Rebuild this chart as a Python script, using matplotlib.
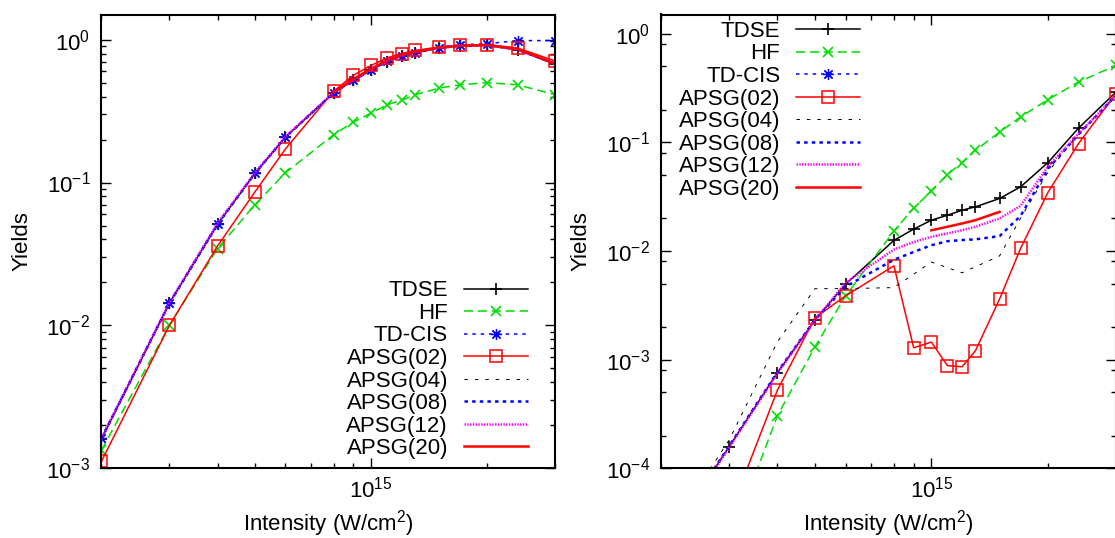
import matplotlib
matplotlib.use("Agg")
import matplotlib.pyplot as plt
from matplotlib.ticker import LogLocator, LogFormatterSciNotation, NullFormatter

plt.rcParams['font.family'] = ['Liberation Sans', 'DejaVu Sans']
plt.rcParams['mathtext.fontset'] = 'custom'
plt.rcParams['mathtext.rm'] = 'Liberation Sans'
plt.rcParams['mathtext.it'] = 'Liberation Sans:italic'
plt.rcParams['mathtext.bf'] = 'Liberation Sans:bold'
plt.rcParams['axes.unicode_minus'] = False
plt.rcParams['lines.scale_dashes'] = False

# ---------------- data ----------------
labels = ["TDSE", "HF", "TD-CIS", "APSG(02)", "APSG(04)", "APSG(08)", "APSG(12)", "APSG(20)"]

# left panel
xL = [2e14, 3e14, 4e14, 5e14, 6e14, 8e14, 9e14, 1.0e15, 1.1e15, 1.2e15, 1.3e15, 1.5e15, 1.7e15, 2.0e15, 2.4e15, 3.0e15]
tdse_L = [1.6e-3, 0.0143, 0.051, 0.116, 0.208, 0.424, 0.519, 0.612, 0.703, 0.77, 0.81, 0.876, 0.905, 0.915, 0.85, 0.675]
hf_L = [1.34e-3, 0.0100, 0.0345, 0.070, 0.117, 0.216, 0.265, 0.306, 0.35, 0.376, 0.411, 0.458, 0.483, 0.50, 0.483, 0.412]
tdcis_L = [1.64e-3, 0.0143, 0.051, 0.116, 0.208, 0.426, 0.519, 0.61, 0.705, 0.768, 0.81, 0.879, 0.92, 0.937, 0.985, 0.985]
apsg02_L = [1.12e-3, 0.0100, 0.036, 0.086, 0.172, 0.436, 0.563, 0.66, 0.745, 0.80, 0.84, 0.888, 0.912, 0.923, 0.874, 0.71]
apsg04_L = [1.6e-3, 0.0143, 0.051, 0.116, 0.208, 0.425, 0.52, 0.613, 0.703, 0.77, 0.81, 0.876, 0.905, 0.915, 0.85, 0.675]
apsg08_L = [1.62e-3, 0.0143, 0.051, 0.116, 0.208, 0.425, 0.52, 0.613, 0.704, 0.77, 0.81, 0.877, 0.905, 0.916, 0.852, 0.677]
apsg12_L = [1.62e-3, 0.0144, 0.052, 0.117, 0.209, 0.426, 0.521, 0.615, 0.705, 0.772, 0.812, 0.878, 0.906, 0.917, 0.853, 0.678]
xL20 = [8e14, 9e14, 1.0e15, 1.1e15, 1.2e15, 1.3e15, 1.5e15, 1.7e15, 2.0e15, 2.4e15, 3.0e15]
apsg20_L = [0.43, 0.53, 0.625, 0.715, 0.78, 0.82, 0.88, 0.905, 0.915, 0.86, 0.68]

# right panel
xR = [2e14, 3e14, 4e14, 5e14, 6e14, 8e14, 9e14, 1.0e15, 1.1e15, 1.2e15, 1.3e15, 1.5e15, 1.7e15, 2.0e15, 2.4e15, 3.0e15]
tdse_R = [1.8e-5, 1.58e-4, 7.6e-4, 2.31e-3, 4.95e-3, 0.0125, 0.0159, 0.0192, 0.0213, 0.0237, 0.0255, 0.0304, 0.0389, 0.065, 0.135, 0.29]
xR_hf = [3e14, 4e14, 5e14, 6e14, 8e14, 9e14, 1.0e15, 1.1e15, 1.2e15, 1.3e15, 1.5e15, 1.7e15, 2.0e15, 2.4e15, 3.0e15]
hf_R = [2.0e-5, 3.05e-4, 1.31e-3, 3.86e-3, 0.0152, 0.0249, 0.0355, 0.0505, 0.065, 0.0845, 0.124, 0.171, 0.247, 0.359, 0.51]
xR_02 = [3e14, 4e14, 5e14, 6e14, 8e14, 9e14, 1.0e15, 1.1e15, 1.2e15, 1.3e15, 1.5e15, 1.7e15, 2.0e15, 2.4e15, 3.0e15]
apsg02_R = [3.7e-5, 5.25e-4, 2.43e-3, 3.86e-3, 7.3e-3, 1.285e-3, 1.45e-3, 8.8e-4, 8.6e-4, 1.21e-3, 3.6e-3, 0.01055, 0.0345, 0.0973, 0.28]
xR_04 = [2e14, 3e14, 4e14, 5e14, 6e14, 8e14, 1.0e15, 1.2e15, 1.5e15, 1.7e15, 2.0e15, 2.4e15, 3.0e15]
apsg04_R = [2.0e-5, 1.82e-4, 1.46e-3, 4.5e-3, 4.5e-3, 4.6e-3, 7.9e-3, 6.3e-3, 9.0e-3, 0.020, 0.053, 0.12, 0.27]
apsg08_R = [1.8e-5, 1.6e-4, 7.7e-4, 2.33e-3, 4.7e-3, 8.3e-3, 9.8e-3, 0.0113, 0.0123, 0.0126, 0.0128, 0.0137, 0.021, 0.057, 0.118, 0.27]
apsg12_R = [1.7e-5, 1.55e-4, 7.5e-4, 2.3e-3, 5.1e-3, 0.0103, 0.0121, 0.0135, 0.0145, 0.0155, 0.0167, 0.0199, 0.026, 0.060, 0.12, 0.27]
xR_20 = [1.0e15, 1.1e15, 1.2e15, 1.3e15, 1.5e15]
apsg20_R = [0.0155, 0.0167, 0.0179, 0.0192, 0.0229]

xlabel = "Intensity (W/cm$^{2}$)"
ylabel = "Yields"

# ---------------- styles ----------------
GREEN = '#00dd00'
styles = {
    "TDSE": dict(color='black', lw=1.1, marker='+', ms=8, mew=1.2, ls='-'),
    "HF": dict(color=GREEN, lw=1.1, marker='x', ms=7, mew=1.2, dashes=(6.5, 3.5)),
    "TD-CIS": dict(color='blue', lw=1.1, marker=(8, 2, 0), ms=8, mew=0.9, dashes=(2.5, 3.5)),
    "APSG(02)": dict(color='red', lw=1.1, marker='s', ms=8, mew=1.1, mfc='none', ls='-'),
    "APSG(04)": dict(color='black', lw=0.7, dashes=(2.5, 5.0)),
    "APSG(08)": dict(color='blue', lw=1.8, dashes=(2.5, 3.0)),
    "APSG(12)": dict(color='magenta', lw=1.8, dashes=(1.0, 1.0)),
    "APSG(20)": dict(color='red', lw=1.8, ls='-'),
}

FS = 16
W, H = 1115, 538
fig = plt.figure(figsize=(W / 100, H / 100), dpi=100)
bottom_px, top_px = 468.3, 14.5
axL = fig.add_axes([101.5 / W, 1 - bottom_px / H, 453.5 / W, (bottom_px - top_px) / H])
axR = fig.add_axes([661.0 / W, 1 - bottom_px / H, 455.0 / W, (bottom_px - top_px) / H])

left_series = [(xL, tdse_L), (xL, hf_L), (xL, tdcis_L), (xL, apsg02_L),
               (xL, apsg04_L), (xL, apsg08_L), (xL, apsg12_L), (xL20, apsg20_L)]
right_series = [(xR, tdse_R), (xR_hf, hf_R), ([], []), (xR_02, apsg02_R),
                (xR_04, apsg04_R), (xR, apsg08_R), (xR, apsg12_R), (xR_20, apsg20_R)]

for ax, series in ((axL, left_series), (axR, right_series)):
    for lab, (xs, ys) in zip(labels, series):
        ax.plot(xs, ys, label=lab, **styles[lab])

axL.set_ylim(1e-3, 1.5)
axR.set_ylim(1e-4, 1.5)
for ax in (axL, axR):
    ax.set_xscale('log')
    ax.set_yscale('log')
    ax.set_xlim(2e14, 3e15)
    ax.xaxis.set_major_locator(LogLocator(base=10, numticks=10))
    ax.xaxis.set_minor_locator(LogLocator(base=10, subs=(2, 3, 4, 5, 6, 7, 8, 9), numticks=20))
    ax.xaxis.set_major_formatter(LogFormatterSciNotation())
    ax.xaxis.set_minor_formatter(NullFormatter())
    ax.yaxis.set_major_locator(LogLocator(base=10, numticks=10))
    ax.yaxis.set_major_formatter(LogFormatterSciNotation())
    ax.yaxis.set_minor_formatter(NullFormatter())
    ax.tick_params(which='both', direction='in', top=True, right=True, width=1.0, labelsize=FS)
    ax.tick_params(which='major', length=7)
    ax.tick_params(which='minor', length=3.5)
    ax.tick_params(axis='y', which='major', pad=8)
    ax.tick_params(axis='x', which='major', pad=6)
    for sp in ax.spines.values():
        sp.set_linewidth(1.5)
    ax.set_xlabel(xlabel, fontsize=FS)
    ax.set_ylabel(ylabel, fontsize=FS)
    ax.xaxis.set_label_coords(0.5, -0.088)
    ax.yaxis.set_label_coords(-0.153, 0.5)

axL.yaxis.set_minor_locator(LogLocator(base=10, subs=(2, 3, 4, 5, 6, 7, 8, 9), numticks=20))
axR.yaxis.set_minor_locator(LogLocator(base=10, subs=(2, 5, 8), numticks=20))

leg_kw = dict(frameon=False, markerfirst=False, handlelength=2.9, handletextpad=0.7,
              labelspacing=0.07, borderpad=0, borderaxespad=0, fontsize=FS, numpoints=1)
axL.legend(loc='lower right', bbox_to_anchor=(0.9405, 0.02), **leg_kw)
axR.legend(loc='upper right', bbox_to_anchor=(0.438, 0.986), **leg_kw)

fig.savefig("out.png", dpi=100)
